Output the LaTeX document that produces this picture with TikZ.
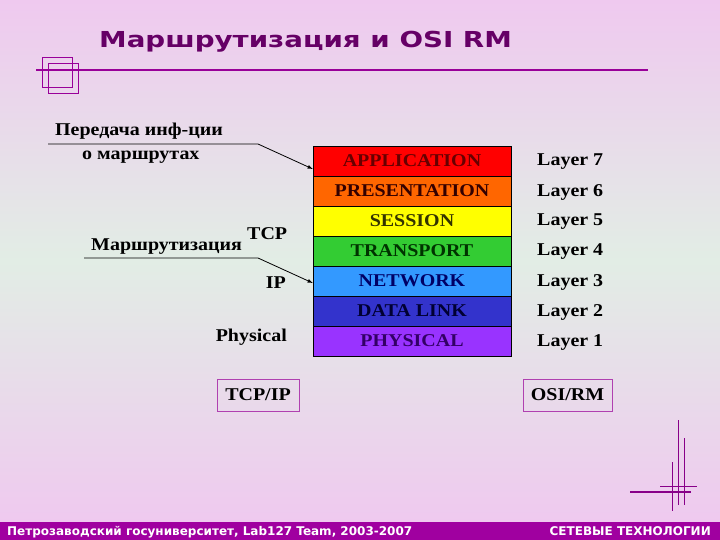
\documentclass[tikz,border=0pt]{standalone}
\usepackage{fontspec}
\setmainfont{Liberation Serif}[FakeStretch=1.11]
\newfontfamily\verdana{DejaVu Sans}
\newfontfamily\verdanawide{DejaVu Sans}[FakeStretch=1.26]
\usepackage{tikz}
\usetikzlibrary{calc,arrows}

\definecolor{bgpink}{HTML}{EFC9EF}
\definecolor{bggreen}{HTML}{E2EDE5}
\definecolor{titlecol}{HTML}{660066}
\definecolor{linecol}{HTML}{990099}
\definecolor{footcol}{HTML}{A000A0}
\definecolor{boxcol}{HTML}{B040B0}
\definecolor{decocol}{HTML}{880088}

\definecolor{appcol}{HTML}{FF0000}
\definecolor{apptext}{HTML}{660000}
\definecolor{prescol}{HTML}{FF6600}
\definecolor{prestext}{HTML}{330000}
\definecolor{sesscol}{HTML}{FFFF00}
\definecolor{sesstext}{HTML}{333300}
\definecolor{transcol}{HTML}{33CC33}
\definecolor{transtext}{HTML}{003300}
\definecolor{netcol}{HTML}{3399FF}
\definecolor{nettext}{HTML}{000066}
\definecolor{dlinkcol}{HTML}{3333CC}
\definecolor{dlinktext}{HTML}{000033}
\definecolor{physcol}{HTML}{9933FF}
\definecolor{phystext}{HTML}{330066}

\begin{document}
\begin{tikzpicture}[
  x=1pt,
  y=-1pt,
  node distance=30pt
]

  \useasboundingbox (0,0) rectangle (720,540);

  \tikzstyle{layerbox}=[draw,rectangle,thin,minimum height=30pt,minimum width=198pt,inner sep=0pt,font=\fontsize{18}{20}\selectfont\bfseries]
  \tikzstyle{laynode}=[inner sep=0pt,font=\fontsize{18}{20}\selectfont\bfseries]
  \tikzstyle{leftlab}=[inner sep=0pt,font=\fontsize{18}{20}\selectfont\bfseries]
  \tikzstyle{modelbox}=[draw=boxcol,line width=1pt,rectangle,minimum height=32pt,inner sep=0pt,font=\fontsize{18}{20}\selectfont\bfseries]
  \tikzstyle{titlenode}=[inner sep=0pt,text=titlecol,font=\verdanawide\fontsize{22}{26}\selectfont\bfseries]
  \tikzstyle{footnode}=[inner sep=0pt,text=white,font=\verdana\fontsize{12}{14}\selectfont\bfseries]
  \tikzstyle{sqnode}=[draw=linecol,line width=0.8pt,rectangle,minimum size=30pt,inner sep=0pt]

  \tikzstyle{pointer}=[draw,->,>=latex,line width=0.8pt]
  \tikzstyle{decoline}=[draw=decocol,line width=1.3pt]

  % background
  \shade[top color=bgpink,bottom color=bgpink,middle color=bggreen] (0,0) rectangle (720,522);
  \fill[footcol] (0,522) rectangle (720,540);

  % title
  \node[titlenode,anchor=base west] (title) at (99,48) {Маршрутизация и OSI RM};
  \coordinate (tl1) at (36,70);
  \coordinate (tl2) at (648,70);
  \draw[linecol,line width=2pt] (tl1) -- (tl2);
  \node[sqnode] (sq1) at (57.3,72.3) {};
  \node[sqnode] (sq2) at (63.5,78.3) {};

  % osi stack
  \node[layerbox,fill=appcol,text=apptext] (app) at (412,161) {APPLICATION};
  \node[layerbox,fill=prescol,text=prestext] (pres) [below of=app] {PRESENTATION};
  \node[layerbox,fill=sesscol,text=sesstext] (sess) [below of=pres] {SESSION};
  \node[layerbox,fill=transcol,text=transtext] (trans) [below of=sess] {TRANSPORT};
  \node[layerbox,fill=netcol,text=nettext] (net) [below of=trans] {NETWORK};
  \node[layerbox,fill=dlinkcol,text=dlinktext] (dlink) [below of=net] {DATA LINK};
  \node[layerbox,fill=physcol,text=phystext] (phys) [below of=dlink] {PHYSICAL};

  % layer numbers
  \node[laynode,anchor=west] (lay7) at (537,162) {Layer 7};
  \node[laynode] (lay6) [below of=lay7] {Layer 6};
  \node[laynode] (lay5) [below of=lay6] {Layer 5};
  \node[laynode] (lay4) [below of=lay5] {Layer 4};
  \node[laynode] (lay3) [below of=lay4] {Layer 3};
  \node[laynode] (lay2) [below of=lay3] {Layer 2};
  \node[laynode] (lay1) [below of=lay2] {Layer 1};

  % tcp/ip side
  \node[leftlab,anchor=base west] (peredacha) at (55,136) {Передача инф-ции};
  \node[leftlab,anchor=base west] (omarsh) at (82,160) {о маршрутах};
  \node[leftlab,anchor=base west] (routing) at (91,250) {Маршрутизация};
  \node[leftlab,anchor=base west] (tcp) at (247,240) {TCP};
  \node[leftlab,anchor=base east] (ip) at (286,288) {IP};
  \node[leftlab,anchor=base east] (physical) at (287,341) {Physical};

  % pointers
  \coordinate (u1s) at (48,144);
  \coordinate (u1k) at (258,144);
  \coordinate (u2s) at (84,258);
  \coordinate (u2k) at (258,258);
  \draw[pointer] (u1s) -- (u1k) -- ([yshift=-8pt]app.west);
  \draw[pointer] (u2s) -- (u2k) -- ([yshift=-2pt]net.west);

  % model names
  \node[modelbox,minimum width=82pt] (tcpip) at (258,395) {TCP/IP};
  \node[modelbox,minimum width=89pt] (osirm) at (567.5,395) {OSI/RM};

  % corner decoration
  \draw[decoline] (672.3,462) -- (672.3,511);
  \draw[decoline] (678.7,420) -- (678.7,505);
  \draw[decoline] (684.3,438) -- (684.3,505);
  \draw[decoline] (660,486.3) -- (696.7,486.3);
  \draw[decoline] (630,492) -- (690.7,492);

  % footer
  \node[footnode,anchor=base west] (footl) at (7,535) {Петрозаводский госуниверситет, Lab127 Team, 2003-2007};
  \node[footnode,anchor=base east] (footr) at (711,535) {СЕТЕВЫЕ ТЕХНОЛОГИИ};

\end{tikzpicture}
\end{document}
